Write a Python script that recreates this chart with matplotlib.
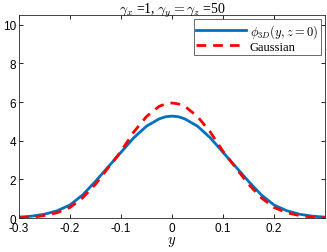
import numpy as np
import matplotlib
matplotlib.use("Agg")
import matplotlib.pyplot as plt

# values
y_pts = [-0.3, -0.275, -0.25, -0.225, -0.2, -0.175, -0.15, -0.125, -0.1, -0.075,
         -0.05, -0.025, -0.0125, 0.0, 0.0125, 0.025, 0.05, 0.075, 0.1, 0.125,
         0.15, 0.175, 0.2, 0.225, 0.25, 0.275, 0.3]
phi3d = [0.05, 0.1, 0.2, 0.38, 0.68, 1.2, 1.9, 2.65, 3.4, 4.15,
         4.75, 5.13, 5.24, 5.27, 5.24, 5.13, 4.75, 4.15, 3.4, 2.65,
         1.9, 1.2, 0.68, 0.38, 0.2, 0.1, 0.05]
gauss = [0.02, 0.05, 0.13, 0.28, 0.55, 1.05, 1.75, 2.6, 3.45, 4.45,
         5.25, 5.78, 5.9, 5.95, 5.9, 5.78, 5.25, 4.45, 3.45, 2.6,
         1.75, 1.05, 0.55, 0.28, 0.13, 0.05, 0.02]
xticks = [-0.3, -0.2, -0.1, 0, 0.1, 0.2]
xticklabels = ['-0.3', '-0.2', '-0.1', '0', '0.1', '0.2']
yticks = [0, 2, 4, 6, 8, 10]

plt.rcParams['mathtext.fontset'] = 'cm'
plt.rcParams['font.family'] = 'Liberation Sans'

fig = plt.figure(figsize=(3.27, 2.53), dpi=100)
ax = fig.add_axes([0.058, 0.134, 0.936, 0.803])

ax.plot(y_pts, phi3d, color='#0072BD', lw=2.0, label=r'$\phi_{3D}(y,z=0)$')
ax.plot(y_pts, gauss, color='#FF0000', lw=2.0, ls=(0, (3.5, 2.5)), label='Gaussian')

ax.set_xlim(-0.3, 0.3)
ax.set_ylim(0, 10.5)
ax.set_xticks(xticks)
ax.set_xticklabels(xticklabels)
ax.set_yticks(yticks)
ax.tick_params(direction='in', top=True, right=True, labelsize=8.5, length=3, width=0.6)
ax.tick_params(axis='x', pad=3)
ax.tick_params(axis='y', pad=2)
for s in ax.spines.values():
    s.set_linewidth(0.6)
    s.set_color('#262626')

ax.set_xlabel(r'$y$', fontsize=10.5, labelpad=0)
ax.set_title(r'$\gamma_x$ =1, $\gamma_y=\gamma_z$ =50', fontsize=10, pad=2,
             family='Liberation Serif')

leg = ax.legend(loc='upper right', handlelength=4.0, borderpad=0.2,
                labelspacing=0.1, handletextpad=0.3, borderaxespad=0.35,
                fancybox=False, edgecolor='#262626', prop={'family': 'Liberation Serif', 'size': 9})
leg.get_frame().set_linewidth(0.6)

fig.savefig('out.png', dpi=100)
